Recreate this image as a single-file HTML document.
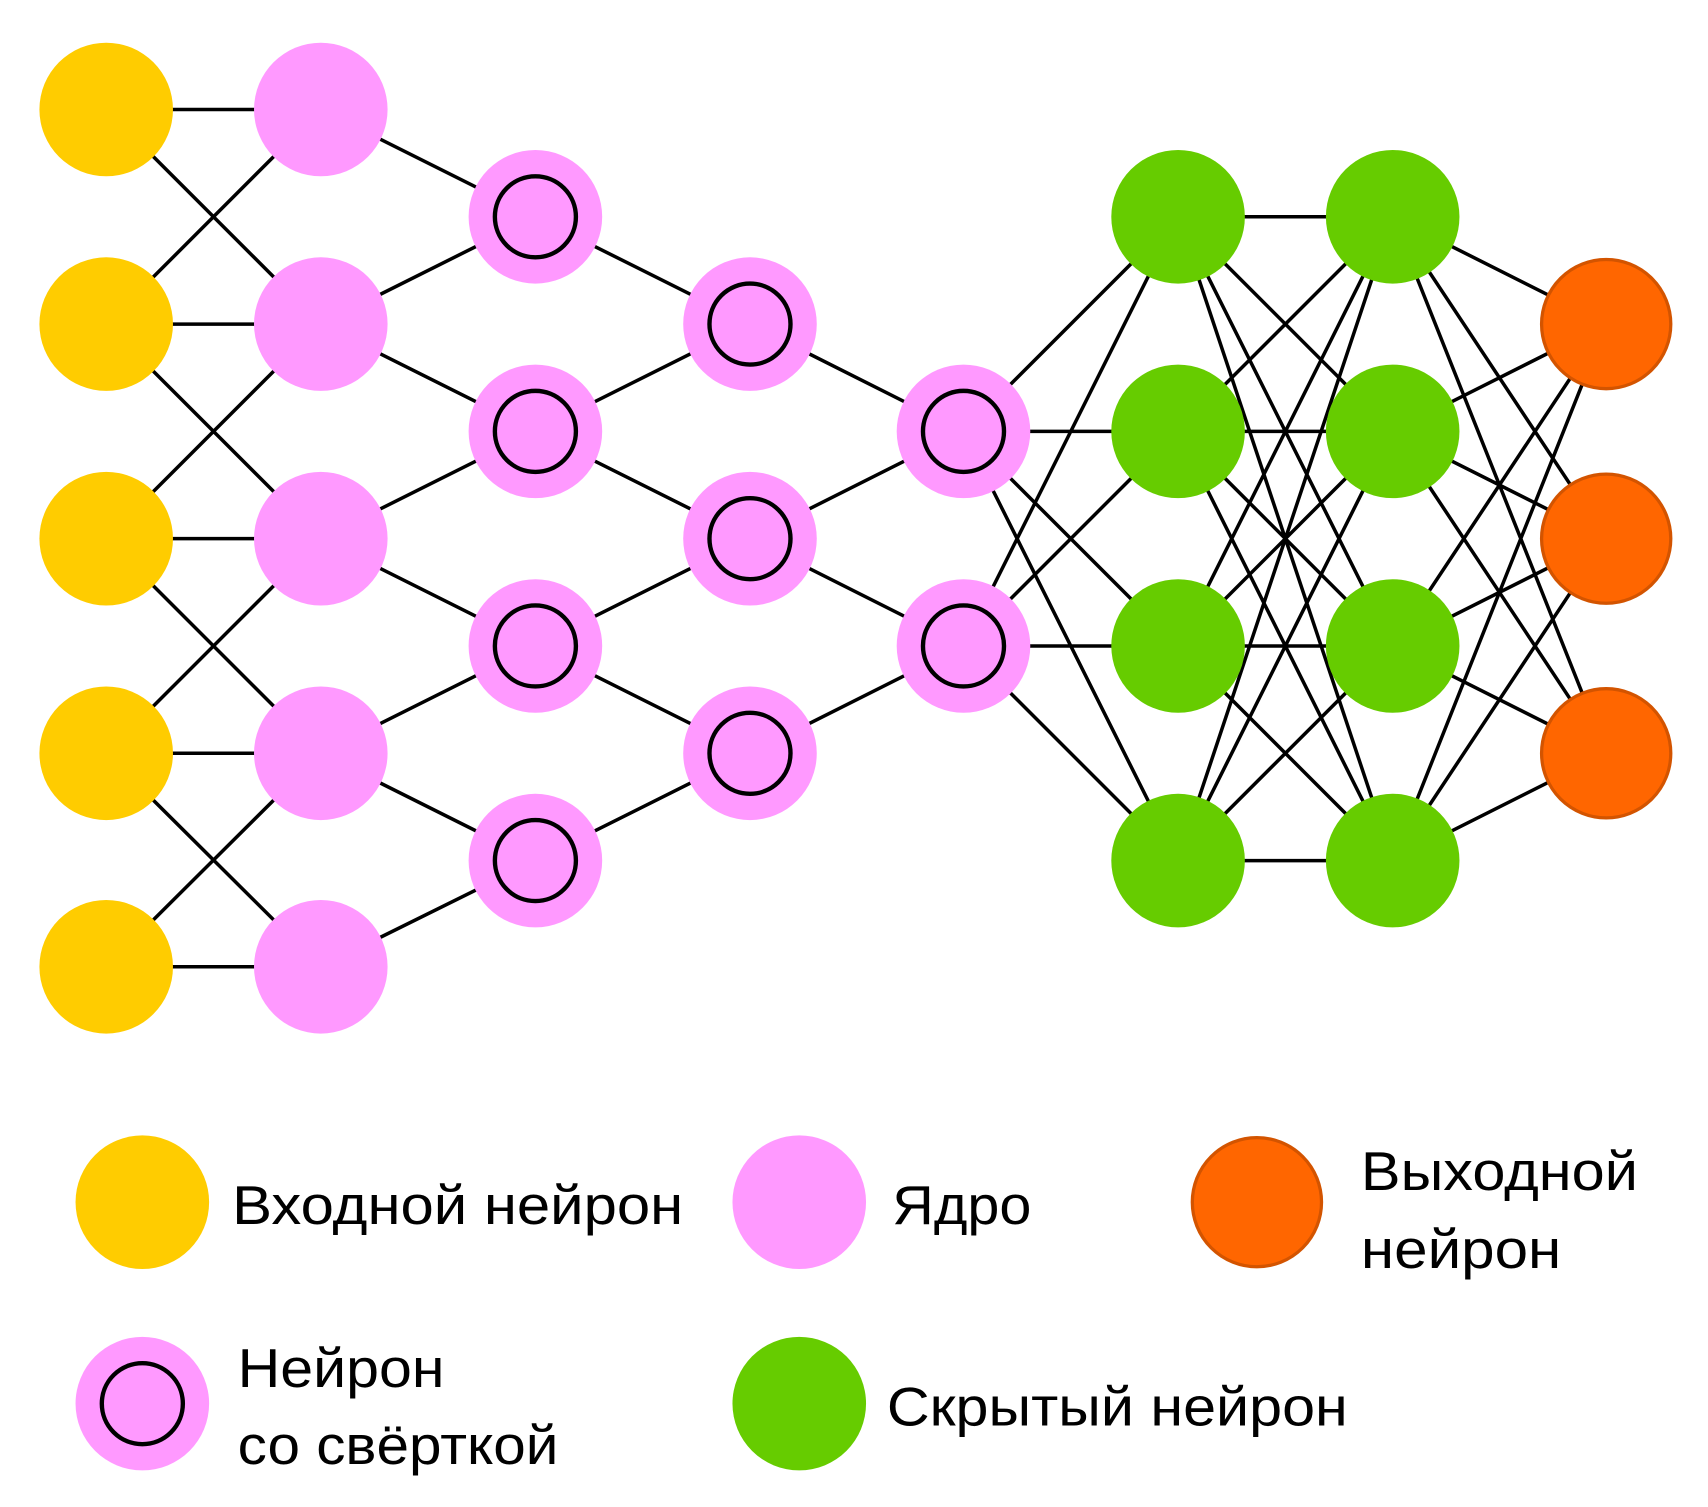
<!DOCTYPE html>
<html><head><meta charset="utf-8"><style>html,body{margin:0;padding:0;background:#fff}svg{display:block}</style></head>
<body>
<svg width="1708" height="1507" viewBox="0 0 1560 1376.4" preserveAspectRatio="none" xmlns="http://www.w3.org/2000/svg">
<g stroke="#000" stroke-width="3.2" fill="none">
<path d="M97 100H293M97 296H293M97 492H293M97 688H293M97 883H293
M97 100L293 296M97 296L293 100M97 296L293 492M97 492L293 296M97 492L293 688M97 688L293 492M97 688L293 883M97 883L293 688
M293 100L489 198M293 296L489 394M293 492L489 590M293 688L489 786
M293 296L489 198M293 492L489 394M293 688L489 590M293 883L489 786
M489 198L685 296M489 394L685 492M489 590L685 688
M489 394L685 296M489 590L685 492M489 786L685 688
M685 296L880 394M685 492L880 590M685 492L880 394M685 688L880 590
M880 394L1076 198M880 394L1076 394M880 394L1076 590M880 394L1076 786
M880 590L1076 198M880 590L1076 394M880 590L1076 590M880 590L1076 786
M1076 198L1272 198M1076 198L1272 394M1076 198L1272 590M1076 198L1272 786
M1076 394L1272 198M1076 394L1272 394M1076 394L1272 590M1076 394L1272 786
M1076 590L1272 198M1076 590L1272 394M1076 590L1272 590M1076 590L1272 786
M1076 786L1272 198M1076 786L1272 394M1076 786L1272 590M1076 786L1272 786
M1272 198L1467 296M1272 198L1467 492M1272 198L1467 688
M1272 394L1467 296M1272 394L1467 492M1272 394L1467 688
M1272 590L1467 296M1272 590L1467 492M1272 590L1467 688
M1272 786L1467 296M1272 786L1467 492M1272 786L1467 688"/>
</g>
<g fill="#FFCC00">
<circle cx="97" cy="100" r="61"/><circle cx="97" cy="296" r="61"/><circle cx="97" cy="492" r="61"/><circle cx="97" cy="688" r="61"/><circle cx="97" cy="883" r="61"/>
</g>
<g fill="#FF99FF">
<circle cx="293" cy="100" r="61"/><circle cx="293" cy="296" r="61"/><circle cx="293" cy="492" r="61"/><circle cx="293" cy="688" r="61"/><circle cx="293" cy="883" r="61"/>
<circle cx="489" cy="198" r="61"/><circle cx="489" cy="394" r="61"/><circle cx="489" cy="590" r="61"/><circle cx="489" cy="786" r="61"/>
<circle cx="685" cy="296" r="61"/><circle cx="685" cy="492" r="61"/><circle cx="685" cy="688" r="61"/>
<circle cx="880" cy="394" r="61"/><circle cx="880" cy="590" r="61"/>
</g>
<g fill="none" stroke="#000" stroke-width="4">
<circle cx="489" cy="198" r="37"/><circle cx="489" cy="394" r="37"/><circle cx="489" cy="590" r="37"/><circle cx="489" cy="786" r="37"/>
<circle cx="685" cy="296" r="37"/><circle cx="685" cy="492" r="37"/><circle cx="685" cy="688" r="37"/>
<circle cx="880" cy="394" r="37"/><circle cx="880" cy="590" r="37"/>
</g>
<g fill="#66CC00">
<circle cx="1076" cy="198" r="61"/><circle cx="1076" cy="394" r="61"/><circle cx="1076" cy="590" r="61"/><circle cx="1076" cy="786" r="61"/>
<circle cx="1272" cy="198" r="61"/><circle cx="1272" cy="394" r="61"/><circle cx="1272" cy="590" r="61"/><circle cx="1272" cy="786" r="61"/>
</g>
<g fill="#FF6600" stroke="#D35400" stroke-width="3">
<circle cx="1467" cy="296" r="59"/><circle cx="1467" cy="492" r="59"/><circle cx="1467" cy="688" r="59"/>
</g>
<!-- legend -->
<circle cx="130" cy="1098" r="61" fill="#FFCC00"/>
<circle cx="730" cy="1098" r="61" fill="#FF99FF"/>
<circle cx="1148" cy="1098" r="59" fill="#FF6600" stroke="#D35400" stroke-width="3"/>
<circle cx="130" cy="1282" r="61" fill="#FF99FF"/>
<circle cx="130" cy="1282" r="37" fill="none" stroke="#000" stroke-width="4"/>
<circle cx="730" cy="1282" r="61" fill="#66CC00"/>
<g font-family="'Liberation Sans', sans-serif" font-size="50" fill="#000">
<text x="212" y="1118" textLength="412" lengthAdjust="spacingAndGlyphs">Входной нейрон</text>
<text x="815" y="1118" textLength="127" lengthAdjust="spacingAndGlyphs">Ядро</text>
<text x="1243" y="1087" textLength="253" lengthAdjust="spacingAndGlyphs">Выходной</text>
<text x="1243" y="1158" textLength="183" lengthAdjust="spacingAndGlyphs">нейрон</text>
<text x="217" y="1267" textLength="189" lengthAdjust="spacingAndGlyphs">Нейрон</text>
<text x="217" y="1337" textLength="293" lengthAdjust="spacingAndGlyphs">со свёрткой</text>
<text x="810" y="1302" textLength="421" lengthAdjust="spacingAndGlyphs">Скрытый нейрон</text>
</g>
</svg>
</body></html>
